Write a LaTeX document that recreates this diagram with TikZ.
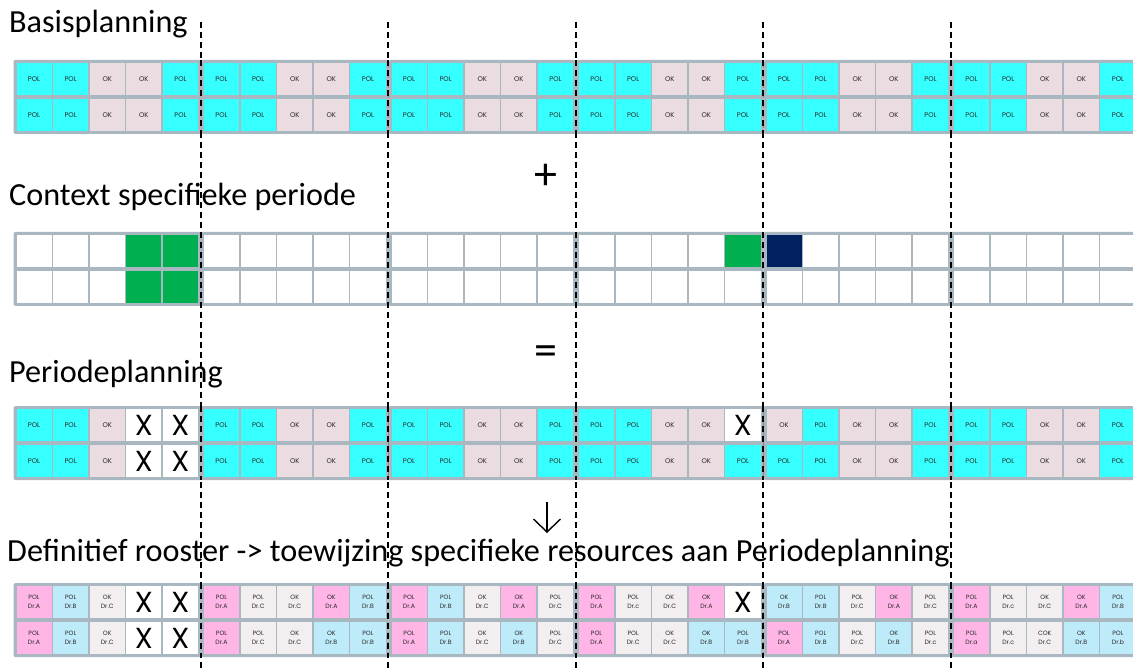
\documentclass[tikz,border=0pt]{standalone}
\usepackage{fontspec}
\setmainfont{Carlito}
\newfontfamily\cellfnt{Poppins}
\usetikzlibrary{arrows.meta}
\definecolor{framec}{HTML}{A9B7C0}
\definecolor{cy}{HTML}{36FFFF}
\definecolor{ok}{HTML}{EADCE0}
\definecolor{wh}{HTML}{FFFFFF}
\definecolor{wt}{HTML}{FFFFFF}
\definecolor{gn}{HTML}{00B050}
\definecolor{nv}{HTML}{002060}
\definecolor{pk}{HTML}{FFB5E5}
\definecolor{bl}{HTML}{BDEBFA}
\definecolor{gr}{HTML}{F3EEF0}
\definecolor{celltext}{HTML}{2A2A2A}
\newcommand\Xm{{\fontsize{29}{29}\selectfont\color{black}X}}
\def\nonemark{none}
\newcommand\rowA[3]{%
  \foreach \cc/\ta [count=\i from 0] in {#3} {
    \pgfmathtruncatemacro\kk{\i/5}
    \pgfmathsetmacro\xx{13.5+187.5*\kk+3+17.55+36.6*(\i-5*\kk)}
    \node[cell, fill=\cc] (#2-\i) at (\xx,#1) {\ta};
  }}
\newcommand\rowB[3]{%
  \foreach \cc/\ta/\tb [count=\i from 0] in {#3} {
    \pgfmathtruncatemacro\kk{\i/5}
    \pgfmathsetmacro\xx{13.5+187.5*\kk+3+17.55+36.6*(\i-5*\kk)}
    \node[cell, fill=\cc, font=\cellfnt\fontsize{6.2}{8.8}\selectfont] (#2-\i) at (\xx,#1) {\ta\ifx\tb\nonemark\else\\\tb\fi};
  }}
\begin{document}
\begin{tikzpicture}[x=1pt,y=-1pt,
  cell/.style={draw=none, inner sep=0pt, outer sep=0pt, minimum width=35.1pt,
    minimum height=32pt, align=center, text=celltext,
    font=\cellfnt\fontsize{6.8}{8}\selectfont},
  head/.style={anchor=base west, inner sep=0pt, font=\fontsize{32.2}{38}\selectfont},
  sym/.style={inner sep=0pt, font=\fontsize{46}{46}\selectfont},
  divider/.style={draw=black, line width=1.2pt, dash pattern=on 6pt off 4pt}]
\useasboundingbox (0,0) rectangle (1133,668);
\clip (0,0) rectangle (1133,668);
\fill[white] (0,0) rectangle (1133,668);
% week dividers (behind the text and the grids' gaps)
\foreach \x in {201,388,576,763,951}
  \draw[divider] (\x,22) -- (\x,668);
% frames
\foreach \top in {60,232,406,583}
  \foreach \k in {0,...,5}
    \fill[framec, rounded corners=1.5pt] ({13.5+187.5*\k},\top) rectangle ++(187.5,74);
% headings
\node[head] (h1) at (9,33) {Basisplanning};
\node[head] (h2) at (9,206) {Context specifieke periode};
\node[head] (h3) at (9,383) {Periodeplanning};
\node[head] (h4) at (7,561) {Definitief rooster -> toewijzing specifieke resources aan Periodeplanning};
\node[sym] (plus) at (546,177) {+};
\node[sym] (eq) at (546,356) {=};
\coordinate (atop) at (547,502);
\coordinate (abot) at (547,533);
\draw[line width=1.4pt, -{Straight Barb[length=13pt,width=27pt,line width=1.4pt]}] (atop) -- (abot);
% Basisplanning
\rowA{79}{ba1}{cy/POL,cy/POL,ok/OK,ok/OK,cy/POL,cy/POL,cy/POL,ok/OK,ok/OK,cy/POL,cy/POL,cy/POL,ok/OK,ok/OK,cy/POL,cy/POL,cy/POL,ok/OK,ok/OK,cy/POL,cy/POL,cy/POL,ok/OK,ok/OK,cy/POL,cy/POL,cy/POL,ok/OK,ok/OK,cy/POL}
\rowA{115}{ba2}{cy/POL,cy/POL,ok/OK,ok/OK,cy/POL,cy/POL,cy/POL,ok/OK,ok/OK,cy/POL,cy/POL,cy/POL,ok/OK,ok/OK,cy/POL,cy/POL,cy/POL,ok/OK,ok/OK,cy/POL,cy/POL,cy/POL,ok/OK,ok/OK,cy/POL,cy/POL,cy/POL,ok/OK,ok/OK,cy/POL}
% Context
\rowA{251}{co1}{wt/,wt/,wt/,gn/,gn/,wt/,wt/,wt/,wt/,wt/,wt/,wt/,wt/,wt/,wt/,wt/,wt/,wt/,wt/,gn/,nv/,wt/,wt/,wt/,wt/,wt/,wt/,wt/,wt/,wt/}
\rowA{287}{co2}{wt/,wt/,wt/,gn/,gn/,wt/,wt/,wt/,wt/,wt/,wt/,wt/,wt/,wt/,wt/,wt/,wt/,wt/,wt/,wt/,wt/,wt/,wt/,wt/,wt/,wt/,wt/,wt/,wt/,wt/}
% Periodeplanning
\rowA{425}{pe1}{cy/POL,cy/POL,ok/OK,wh/\Xm,wh/\Xm,cy/POL,cy/POL,ok/OK,ok/OK,cy/POL,cy/POL,cy/POL,ok/OK,ok/OK,cy/POL,cy/POL,cy/POL,ok/OK,ok/OK,wh/\Xm,ok/OK,cy/POL,ok/OK,ok/OK,cy/POL,cy/POL,cy/POL,ok/OK,ok/OK,cy/POL}
\rowA{461}{pe2}{cy/POL,cy/POL,ok/OK,wh/\Xm,wh/\Xm,cy/POL,cy/POL,ok/OK,ok/OK,cy/POL,cy/POL,cy/POL,ok/OK,ok/OK,cy/POL,cy/POL,cy/POL,ok/OK,ok/OK,cy/POL,cy/POL,cy/POL,ok/OK,ok/OK,cy/POL,cy/POL,cy/POL,ok/OK,ok/OK,cy/POL}
% Definitief rooster
\rowB{602}{de1}{pk/POL/Dr.A,bl/POL/Dr.B,gr/OK/Dr.C,wh/\Xm/none,wh/\Xm/none,
pk/POL/Dr.A,gr/POL/Dr.C,gr/OK/Dr.C,pk/OK/Dr.A,bl/POL/Dr.B,
pk/POL/Dr.A,bl/POL/Dr.B,gr/OK/Dr.C,pk/OK/Dr.A,gr/POL/Dr.C,
pk/POL/Dr.A,gr/POL/Dr.c,gr/OK/Dr.C,pk/OK/Dr.A,wh/\Xm/none,
bl/OK/Dr.B,bl/POL/Dr.B,gr/POL/Dr.C,pk/OK/Dr.A,gr/POL/Dr.C,
pk/POL/Dr.A,gr/POL/Dr.c,gr/OK/Dr.C,pk/OK/Dr.A,bl/POL/Dr.B}
\rowB{638}{de2}{pk/POL/Dr.A,bl/POL/Dr.B,gr/OK/Dr.C,wh/\Xm/none,wh/\Xm/none,
pk/POL/Dr.A,gr/POL/Dr.C,gr/OK/Dr.C,bl/OK/Dr.B,bl/POL/Dr.B,
pk/POL/Dr.A,bl/POL/Dr.B,gr/OK/Dr.C,bl/OK/Dr.B,gr/POL/Dr.C,
pk/POL/Dr.A,gr/POL/Dr.C,gr/OK/Dr.C,bl/OK/Dr.B,bl/POL/Dr.B,
pk/POL/Dr.A,bl/POL/Dr.B,gr/POL/Dr.C,bl/OK/Dr.B,gr/POL/Dr.c,
pk/POL/Dr.a,gr/POL/Dr.c,gr/COK/Dr.C,bl/OK/Dr.B,bl/POL/Dr.b}
% dividers visible over the grids
\foreach \x in {201,388,576,763,951}
  \foreach \top in {60,232,406,583}
    \draw[divider] (\x,\top) -- (\x,\top+74);
\end{tikzpicture}
\end{document}
